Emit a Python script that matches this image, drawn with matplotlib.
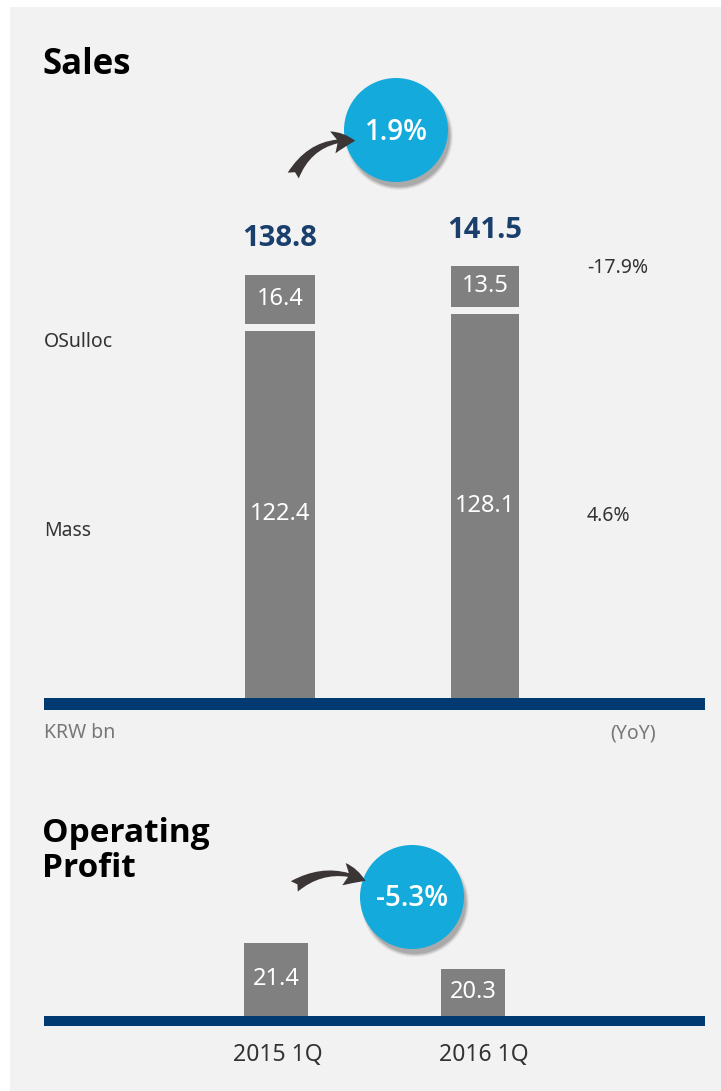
import numpy as np
import matplotlib.pyplot as plt
from matplotlib.patches import Rectangle, Circle, FancyArrowPatch

plt.rcParams['font.family'] = ['Noto Sans', 'DejaVu Sans']
BOLD = ['Open Sans', 'Roboto', 'DejaVu Sans']

# ---- data ----
quarters = ['2015 1Q', '2016 1Q']
mass = [122.4, 128.1]
osulloc = [16.4, 13.5]
totals = [138.8, 141.5]
seg_names = ['OSulloc', 'Mass']
seg_yoy = ['-17.9%', '4.6%']
sales_growth = '1.9%'
op_profit = [21.4, 20.3]
op_growth = '-5.3%'

# colours
BG = '#f2f2f2'
NAVY = '#003a70'
BAR = '#808080'
BLUE = '#14aadb'
TOTAL = '#1b3f6d'
DARK = '#333333'
ARROW = '#3b3535'

W, H = 721, 1091


def px_rect(l, t, r, b):
    # pixel box (top-left origin) -> figure fraction rect
    return [l / W, 1 - b / H, (r - l) / W, (b - t) / H]


fig = plt.figure(figsize=(W / 100, H / 100), dpi=100, facecolor='white')

# background / annotation layer in pixel coordinates
bg = fig.add_axes([0, 0, 1, 1], zorder=0)
bg.set_xlim(0, W)
bg.set_ylim(H, 0)
bg.axis('off')
bg.add_patch(Rectangle((10, 7), W - 10, H - 7, color=BG, lw=0))

# ---------------- Sales ----------------
sales_px = 3.0          # pixels per KRW bn
band = 12               # navy baseline thickness in px
gap = 7 / sales_px      # white gap between segments
top_px = 150
ax = fig.add_axes(px_rect(44, top_px, 705, 698 + band), zorder=1)
ax.patch.set_alpha(0)
x = np.arange(len(quarters))
ax.set_xlim(-236 / 205, 425 / 205)
ax.set_ylim(-band / sales_px, (698 - top_px) / sales_px)
widths = [0.345, 0.33]
ax.axhspan(-band / sales_px, 0, color=NAVY, lw=0)
ax.bar(x, mass, width=widths, color=BAR, lw=0)
ax.bar(x, osulloc, width=widths, bottom=np.array(mass) + gap, color=BAR, lw=0)
for i in range(len(quarters)):
    ax.text(x[i], mass[i] / 2, f'{mass[i]:.1f}', color='white', ha='center',
            va='center', fontsize=17)
    ax.text(x[i], mass[i] + gap + osulloc[i] / 2, f'{osulloc[i]:.1f}',
            color='white', ha='center', va='center', fontsize=17)
    ax.text(x[i], mass[i] + gap + osulloc[i] + 12, f'{totals[i]:.1f}',
            color=TOTAL, ha='center', va='center', fontsize=21,
            fontweight='bold', family=BOLD)
ax.axis('off')

# segment names on the left, yoy on the right
for name, yp in zip(seg_names, [342, 531]):
    bg.text(44, yp, name, color=DARK, fontsize=14, va='center', ha='left')
for val, yp in zip(seg_yoy, [268, 516]):
    bg.text(587, yp, val, color=DARK, fontsize=14, va='center', ha='left')

bg.text(44, 733, 'KRW bn', color='#777777', fontsize=14, va='center')
bg.text(633, 733, '(YoY)', color='#777777', fontsize=14, va='center',
        ha='center')
bg.text(42, 65, 'Sales', color='black', fontsize=25, fontweight='bold',
        va='center', family=BOLD)

# ---------------- Operating Profit ----------------
op_base = 18.3          # value at the baseline
op_px = 23.6            # pixels per KRW bn
op_band = 10
op_top = 925
ax2 = fig.add_axes(px_rect(44, op_top, 705, 1016 + op_band), zorder=1)
ax2.patch.set_alpha(0)
ax2.set_xlim(-232 / 197, 429 / 197)
ax2.set_ylim(op_base - op_band / op_px, op_base + (1016 - op_top) / op_px)
ax2.axhspan(op_base - op_band / op_px, op_base, color=NAVY, lw=0)
ax2.bar(x, np.array(op_profit) - op_base, bottom=op_base, width=0.325,
        color=BAR, lw=0)
for i in range(len(quarters)):
    ax2.text(x[i], (op_profit[i] + op_base) / 2, f'{op_profit[i]:.1f}',
             color='white', ha='center', va='center', fontsize=17)
ax2.axis('off')

for xc, q in zip([278, 484], quarters):
    bg.text(xc, 1055, q, color=DARK, fontsize=16.5, ha='center', va='center')

bg.text(42, 851, 'Operating\nProfit', color='black', fontsize=24,
        fontweight='bold', va='center', linespacing=1.08, family=BOLD)


# ---------------- growth bubbles ----------------
def bubble(cx, cy, label):
    for k, a in enumerate([0.05, 0.07, 0.09, 0.11]):
        bg.add_patch(Circle((cx + 3, cy + 6), 54 - k, color='black', alpha=a,
                            lw=0))
    bg.add_patch(Circle((cx, cy), 52, color=BLUE, lw=0))
    bg.text(cx, cy + 2, label, color='white', fontsize=20,
            fontweight='semibold', ha='center', va='center', family=BOLD)


bubble(396, 130, sales_growth)
bubble(412, 897, op_growth)

for start, end, rad in [((292, 178), (358, 141), -0.35),
                        ((292, 888), (368, 882), -0.3)]:
    bg.add_patch(FancyArrowPatch(start, end, connectionstyle=f'arc3,rad={rad}',
                                 arrowstyle='fancy,head_length=0.9,head_width=0.9,tail_width=0.5',
                                 mutation_scale=18, color=ARROW, lw=0))

fig.savefig('out.png', dpi=100, facecolor='white')
